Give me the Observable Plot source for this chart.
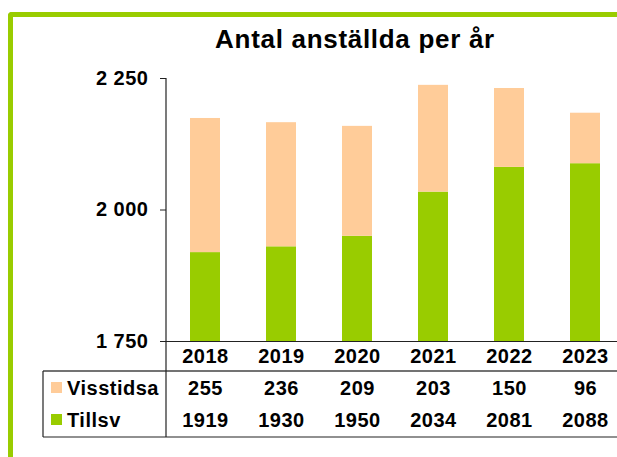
<!DOCTYPE html>
<html>
<head>
<meta charset="utf-8">
<script src="https://cdn.jsdelivr.net/npm/d3@7"></script>
<script src="https://cdn.jsdelivr.net/npm/@observablehq/plot@0.6"></script>
<style>
  html, body { margin: 0; padding: 0; background: #fff; }
  #wrap { position: relative; width: 617px; height: 457px; overflow: hidden; background: #fff; }
  #border { position: absolute; left: 8px; top: 12px; width: 800px; height: 600px;
            border-left: 5px solid #99cc00; border-top: 5px solid #99cc00; border-top-left-radius: 4px; }
  #chart { position: absolute; left: 0; top: 0; }
  #chart svg text { font-family: "Liberation Sans", Arial, sans-serif; font-weight: bold; letter-spacing: 0.5px; }
</style>
</head>
<body>
<div id="wrap"><div id="border"></div><div id="chart"></div></div>
<script>
const title = "Antal anställda per år";
const years = ["2018", "2019", "2020", "2021", "2022", "2023"];
const seriesNames = ["Tillsv", "Visstidsa"];
const tillsv = [1919, 1930, 1950, 2034, 2081, 2088];
const visstid = [255, 236, 209, 203, 150, 96];
const yTicks = [1750, 2000, 2250];
const colors = { "Visstidsa": "#ffcc99", "Tillsv": "#99cc00" };

const long = [];
years.forEach((yr, i) => {
  long.push({ year: yr, series: "Tillsv", value: tillsv[i] });
  long.push({ year: yr, series: "Visstidsa", value: visstid[i] });
});
const rows = years.map((yr, i) => ({ year: yr, tillsv: tillsv[i], visstid: visstid[i] }));
const fmt = d => d3.format(",")(d).replace(/,/g, " ");

const W = 617, H = 457;
const txt = { frameAnchor: "bottom", lineAnchor: "middle", fontSize: 20, fontWeight: "bold", fill: "#000" };
const plot = Plot.plot({
  width: W, height: H,
  marginLeft: 166, marginRight: 0, marginTop: 78, marginBottom: 116,
  style: { fontFamily: "'Liberation Sans', Arial, sans-serif", fontSize: "20px", background: "transparent", overflow: "visible" },
  x: { type: "band", domain: years, range: [166.5, 624.3], padding: 0, axis: null },
  y: { domain: [1750, 2250], clamp: true, axis: null },
  color: { domain: ["Visstidsa", "Tillsv"], range: [colors["Visstidsa"], colors["Tillsv"]] },
  marks: [
    Plot.barY(long, { x: "year", y: "value", fill: "series", insetLeft: 23, insetRight: 23 }),
    Plot.axisY({ ticks: yTicks, tickSize: 6, tickPadding: 12, tickFormat: fmt, fontSize: 20, fontWeight: "bold", label: null, stroke: "#222" }),
    Plot.ruleY([1750], { stroke: "#222", strokeWidth: 1.2 }),
    Plot.text(rows, { ...txt, x: "year", text: d => d.year, dy: 15 }),
    Plot.text(rows, { ...txt, x: "year", text: d => String(d.visstid), dy: 47 }),
    Plot.text(rows, { ...txt, x: "year", text: d => String(d.tillsv), dy: 79 })
  ]
});
document.getElementById("chart").appendChild(plot);

// table structure, legend keys and title
const svg = d3.select(plot);
const y = plot.scale("y");
const yTop = y.apply(2250), yBase = y.apply(1750);
const tLeft = 43, tRow = yBase + 30, tBottom = yBase + 96, axisX = 166;
const g = svg.append("g").attr("stroke", "#222").attr("stroke-width", 1.2);
g.append("line").attr("x1", tLeft).attr("x2", W).attr("y1", tRow).attr("y2", tRow).attr("stroke", "#444").attr("stroke-width", 1.6);
g.append("line").attr("x1", tLeft).attr("x2", W).attr("y1", tBottom).attr("y2", tBottom);
g.append("line").attr("x1", tLeft).attr("x2", tLeft).attr("y1", tRow).attr("y2", tBottom);
g.append("line").attr("x1", axisX).attr("x2", axisX).attr("y1", yTop).attr("y2", tBottom);

const legendRows = [
  { name: "Visstidsa", cy: yBase + 47 },
  { name: "Tillsv", cy: yBase + 79 }
];
legendRows.forEach(r => {
  svg.append("rect").attr("x", 51).attr("y", r.cy - 6).attr("width", 11).attr("height", 11).attr("fill", colors[r.name]);
  svg.append("text").attr("x", 67).attr("y", r.cy).attr("dy", "0.36em").attr("text-anchor", "start")
    .attr("font-size", 20).attr("font-weight", "bold").attr("fill", "#000").text(r.name);
});

svg.append("text").attr("x", 355).attr("y", 48).attr("text-anchor", "middle")
  .attr("font-size", 26).attr("font-weight", "bold").attr("fill", "#000")
  .style("letter-spacing", "0.7px").text(title);
</script>
</body>
</html>
